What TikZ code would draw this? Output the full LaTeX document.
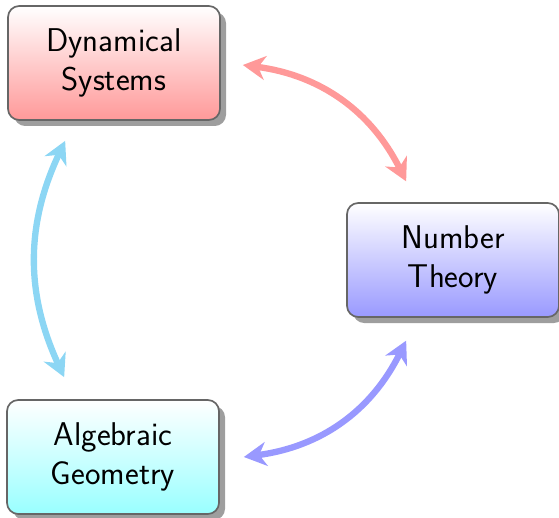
\documentclass[tikz,border=0pt]{standalone}
\usetikzlibrary{arrows.meta,shadows}
\definecolor{skyarrow}{RGB}{140,214,244}
\begin{document}
\begin{tikzpicture}[
    subject/.style={draw=black!60, line width=1.2pt, rounded corners=0.28cm,
      minimum width=5.3cm, minimum height=2.85cm, align=center,
      font=\fontsize{23.4}{27.3}\selectfont\sffamily, top color=white,
      drop shadow={shadow xshift=0.15cm, shadow yshift=-0.15cm, fill=black!38, opacity=1}},
    link/.style={line width=4.5pt, {Stealth[length=16pt,width=17pt,inset=5pt]}-{Stealth[length=16pt,width=17pt,inset=5pt]}}
  ]
  \useasboundingbox (0,0) rectangle (13.975,12.925);

  % the three subjects
  \node[subject, bottom color=red!40] (dyn) at (2.85,11.35) {Dynamical\\Systems};
  \node[subject, bottom color=blue!40] (num) at (11.325,6.425) {Number\\Theory};
  \node[subject, bottom color=cyan!40] (alg) at (2.825,1.5) {Algebraic\\Geometry};

  % links between them
  \coordinate (dynR) at ([xshift=0.55cm,yshift=-0.05cm]dyn.east);
  \coordinate (numT) at ([xshift=1.5cm,yshift=0.52cm]num.north west);
  \coordinate (numB) at ([xshift=1.5cm,yshift=-0.57cm]num.south west);
  \coordinate (algR) at ([xshift=0.6cm]alg.east);
  \coordinate (dynB) at ([xshift=1.45cm,yshift=-0.5cm]dyn.south west);
  \coordinate (algT) at ([xshift=1.45cm,yshift=0.55cm]alg.north west);

  \draw[link, red!40] (dynR) to[bend left=28] (numT);
  \draw[link, blue!40] (numB) to[bend left=28] (algR);
  \draw[link, skyarrow] (algT) to[bend left=25] (dynB);
\end{tikzpicture}
\end{document}
